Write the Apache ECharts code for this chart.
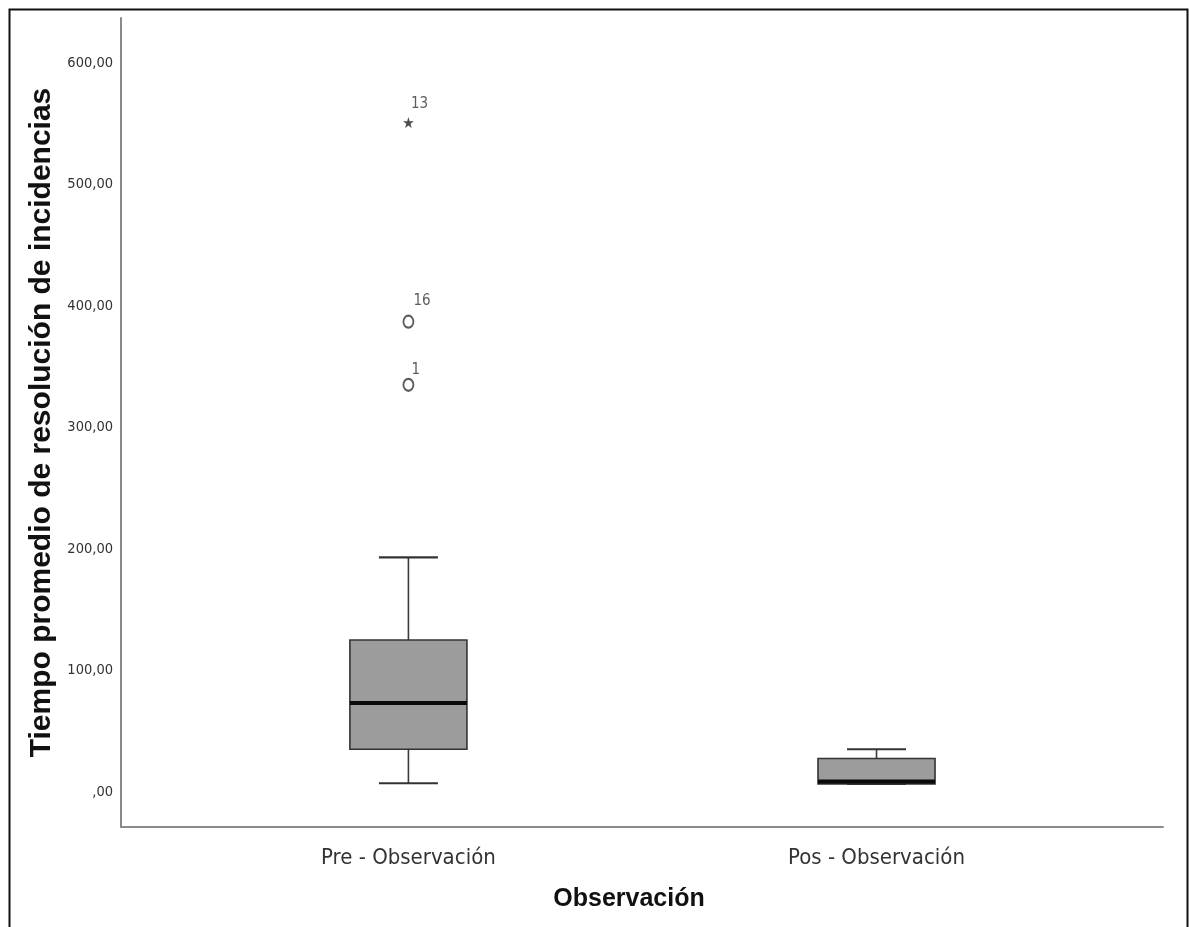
<!DOCTYPE html>
<html>
<head>
<meta charset="utf-8">
<script src="https://cdn.jsdelivr.net/npm/echarts@6/dist/echarts.min.js"></script>
<style>html,body{margin:0;padding:0;background:#fff;}#c{width:1189px;height:927px;}</style>
</head>
<body>
<div id="c"></div>
<script>
// ---- data ----
const categories = ['Pre - Observación', 'Pos - Observación'];
// [lower whisker, Q1, median, Q3, upper whisker]
const preBox = [7, 35, 73, 125, 193];
const posBox = [6.5, 6.5, 8.5, 27.4, 35];
// outliers: [category index, value, case label]
const circleOutliers = [[0, 387, '16'], [0, 335, '1']];
const extremeOutliers = [[0, 551, '13']];
const yTicks = [0, 100, 200, 300, 400, 500, 600];
const yTickLabels = [',00', '100,00', '200,00', '300,00', '400,00', '500,00', '600,00'];
const yTitle = 'Tiempo promedio de resolución de incidencias';
const xTitle = 'Observación';

// ---- font detection (narrow font if installed) ----
function fontAvailable(name) {
  const c = document.createElement('canvas').getContext('2d');
  const s = 'Pre - Observación 600,00';
  c.font = '40px monospace';
  const w0 = c.measureText(s).width;
  c.font = '40px "' + name + '", monospace';
  return Math.abs(c.measureText(s).width - w0) > 0.5;
}
let narrow, catSize, tickSize, idSize;
if (fontAvailable('Liberation Sans Narrow')) {
  narrow = '"Liberation Sans Narrow", sans-serif'; catSize = 25; tickSize = 18; idSize = 17;
} else if (fontAvailable('DejaVu Sans Condensed')) {
  narrow = '"DejaVu Sans Condensed", sans-serif'; catSize = 22; tickSize = 14.5; idSize = 15;
} else {
  narrow = '"Liberation Sans", Arial, sans-serif'; catSize = 21.5; tickSize = 15; idSize = 14.5;
}
const bold = '"Liberation Sans", Arial, sans-serif';

const boxData = [preBox, posBox].map((b, i) => [i].concat(b));
const BOX_W = 0.25, CAP_W = 0.126;
const circleLabelPos = [[11, -21], [9, -15]];
const starLabelPos = [[8, -20]];

const chart = echarts.init(document.getElementById('c'), null, {renderer: 'canvas'});
chart.setOption({
  backgroundColor: '#fff',
  animation: false,
  graphic: [{
    type: 'rect', left: 7, top: 7, z: 100, silent: true,
    shape: {x: 0, y: 0, width: 1178, height: 940},
    style: {fill: 'none', stroke: '#111', lineWidth: 2}
  }],
  grid: {left: 121, right: 26, top: 18, bottom: 100, containLabel: false},
  xAxis: {
    type: 'value', min: -0.614, max: 1.612,
    splitLine: {show: false},
    axisTick: {show: false},
    axisLine: {show: true, onZero: false, lineStyle: {color: '#8a8a8a', width: 2}},
    axisLabel: {
      customValues: [0, 1],
      formatter: v => categories[Math.round(v)],
      fontFamily: narrow, fontSize: catSize, color: '#333', margin: 20
    },
    name: xTitle, nameLocation: 'middle', nameGap: 60,
    nameTextStyle: {fontFamily: bold, fontWeight: 'bold', fontSize: 25, color: '#111', padding: [0, 26, 0, 0]}
  },
  yAxis: {
    type: 'value', min: -29, max: 637,
    splitLine: {show: false},
    axisTick: {show: false},
    axisLine: {show: true, onZero: false, lineStyle: {color: '#8a8a8a', width: 2}},
    axisLabel: {
      customValues: yTicks,
      formatter: v => yTickLabels[yTicks.indexOf(v)],
      fontFamily: narrow, fontSize: tickSize, color: '#333', margin: 8
    },
    name: yTitle, nameLocation: 'middle', nameGap: 50, nameRotate: 90,
    nameTextStyle: {fontFamily: bold, fontWeight: 'bold', fontSize: 30, color: '#111'}
  },
  series: [
    {
      type: 'custom',
      data: boxData,
      encode: {x: 0, y: [1, 2, 3, 4, 5]},
      renderItem: function (params, api) {
        const x = api.value(0);
        const lo = api.coord([x, api.value(1)]);
        const q1 = api.coord([x, api.value(2)]);
        const md = api.coord([x, api.value(3)]);
        const q3 = api.coord([x, api.value(4)]);
        const hi = api.coord([x, api.value(5)]);
        const bw = api.size([BOX_W, 0])[0];
        const cw = api.size([CAP_W, 0])[0];
        const cx = q1[0];
        const ls = {stroke: '#3a3a3a', lineWidth: 1.6};
        return {
          type: 'group',
          children: [
            {type: 'line', shape: {x1: cx, y1: q3[1], x2: cx, y2: hi[1]}, style: ls},
            {type: 'line', shape: {x1: cx, y1: q1[1], x2: cx, y2: lo[1]}, style: ls},
            {type: 'line', shape: {x1: cx - cw / 2, y1: hi[1], x2: cx + cw / 2, y2: hi[1]}, style: {stroke: '#333', lineWidth: 2.2}},
            {type: 'line', shape: {x1: cx - cw / 2, y1: lo[1], x2: cx + cw / 2, y2: lo[1]}, style: {stroke: '#333', lineWidth: 2.2}},
            {type: 'rect', shape: {x: cx - bw / 2, y: q3[1], width: bw, height: q1[1] - q3[1]},
              style: {fill: '#9c9c9c', stroke: '#333', lineWidth: 1.6}},
            {type: 'line', shape: {x1: cx - bw / 2, y1: md[1], x2: cx + bw / 2, y2: md[1]}, style: {stroke: '#0a0a0a', lineWidth: 4}}
          ]
        };
      }
    },
    {
      type: 'scatter',
      data: circleOutliers.map((d, i) => ({value: [d[0], d[1]], name: d[2], label: {position: circleLabelPos[i]}})),
      symbol: 'emptyCircle', symbolSize: [10, 12],
      itemStyle: {color: '#333', borderWidth: 1.8},
      label: {show: true, formatter: p => p.name, fontFamily: narrow, fontSize: idSize, color: '#333'}
    },
    {
      type: 'scatter',
      data: extremeOutliers.map((d, i) => ({value: [d[0], d[1]], name: d[2], label: {position: starLabelPos[i]}})),
      symbol: 'path://M50,0 L61,35 L98,35 L68,57 L79,91 L50,70 L21,91 L32,57 L2,35 L39,35 Z',
      symbolSize: 11,
      itemStyle: {color: '#222'},
      label: {show: true, formatter: p => p.name, fontFamily: narrow, fontSize: idSize, color: '#333'}
    }
  ]
});
</script>
</body>
</html>
